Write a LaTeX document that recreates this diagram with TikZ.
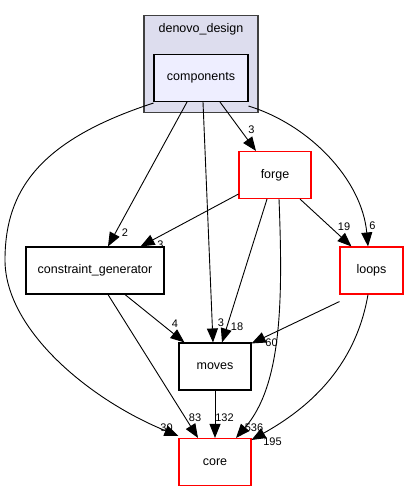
\documentclass[tikz,border=0pt]{standalone}
\usepackage{fontspec}
\setmainfont{Liberation Sans}
\usetikzlibrary{arrows.meta}
\definecolor{clusterfill}{HTML}{DDDDEE}
\definecolor{compfill}{HTML}{EEEEFF}
\definecolor{clusterline}{HTML}{404040}
\begin{document}
\begin{tikzpicture}[x=1pt,y=-1pt,
  box/.style={draw=black,line width=1.1pt,fill=white,minimum height=47pt,inner sep=0pt,font=\fontsize{12.5}{14}\selectfont},
  redbox/.style={box,draw=red},
  dep/.style={draw=black,line width=0.9pt,-{Triangle[length=14pt,width=11pt]}},
  lbl/.style={font=\fontsize{11}{12}\selectfont,inner sep=0pt}]
\useasboundingbox (0,0) rectangle (418,492);
% cluster
\node[draw=clusterline,line width=1.1pt,fill=clusterfill,minimum width=114pt,minimum height=97pt,inner sep=0pt] (cluster) at (201,64) {};
\node[font=\fontsize{12.5}{14}\selectfont,inner sep=0pt] (clabel) at (201,29.5) {denovo\_design};
\node[box,fill=compfill,minimum width=94pt] (comp) at (201,78) {components};
% nodes
\node[redbox,minimum width=72pt] (forge) at (275,175) {forge};
\node[box,minimum width=138pt] (cg) at (95,270.5) {constraint\_generator};
\node[redbox,minimum width=63pt] (loops) at (371.5,270.5) {loops};
\node[box,minimum width=72pt] (moves) at (215,366.5) {moves};
\node[redbox,minimum width=72pt] (core) at (215,462) {core};
% edges
\draw[dep] ([yshift=-1pt]comp.south west) .. controls (40,140) and (5,190) .. (5,260) .. controls (5,330) and (90,400) .. ([yshift=2pt]core.north west);
\draw[dep] ([xshift=-14pt]comp.south) -- ([xshift=13pt]cg.north);
\draw[dep] ([xshift=2pt]comp.south) -- ([xshift=-2pt]moves.north);
\draw[dep] ([xshift=19pt]comp.south) -- ([xshift=-19pt]forge.north);
\draw[dep] ([yshift=-4pt]comp.south east) .. controls (310,125) and (362,180) .. ([xshift=-3.5pt]loops.north);
\draw[dep] ([yshift=5pt]forge.south west) -- ([xshift=-24pt]cg.north east);
\draw[dep] ([xshift=-8pt]forge.south) -- ([xshift=7pt]moves.north);
\draw[dep] ([xshift=4pt]forge.south) .. controls (283,300) and (282,385) .. ([xshift=21pt]core.north);
\draw[dep] ([xshift=25pt]forge.south) -- ([xshift=12pt]loops.north west);
\draw[dep] ([xshift=30pt]cg.south) -- ([xshift=6pt]moves.north west);
\draw[dep] ([xshift=13pt]cg.south) -- ([xshift=-17pt]core.north);
\draw[dep] ([yshift=-7pt]loops.south west) -- ([yshift=-1pt]moves.north east);
\draw[dep] ([xshift=-3.5pt]loops.south) .. controls (355,370) and (305,410) .. ([yshift=-2pt]core.north east);
\draw[dep] (moves.south) -- (core.north);
% labels
\node[lbl] (l30) at (166.5,428) {30};
\node[lbl] (l2) at (125,233) {2};
\node[lbl] (l3m) at (221,323) {3};
\node[lbl] (l3f) at (251.5,129.5) {3};
\node[lbl] (l6) at (372.5,226) {6};
\node[lbl] (l3c) at (160.5,245) {3};
\node[lbl] (l18) at (237,327) {18};
\node[lbl] (l536) at (254,428) {536};
\node[lbl] (l19) at (344,226.5) {19};
\node[lbl] (l4) at (175,324) {4};
\node[lbl] (l83) at (195,418) {83};
\node[lbl] (l60) at (271.5,343) {60};
\node[lbl] (l195) at (272.5,442) {195};
\node[lbl] (l132) at (224.5,418) {132};
\end{tikzpicture}
\end{document}
